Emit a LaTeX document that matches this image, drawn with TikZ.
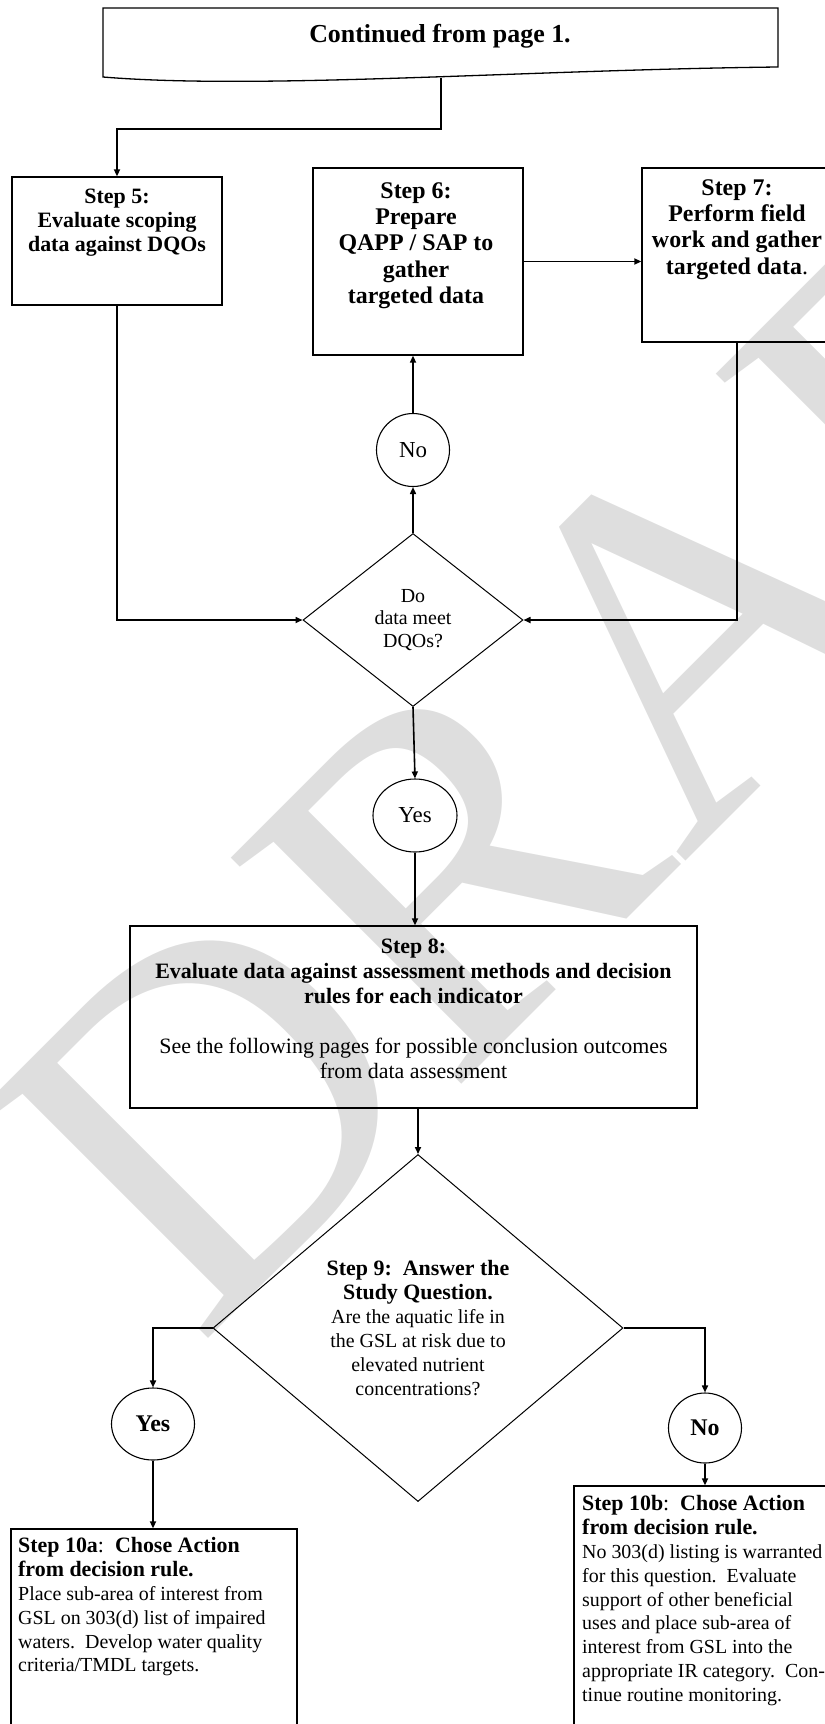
\documentclass[tikz,border=0pt]{standalone}
\usepackage{fontspec}
\setmainfont{Liberation Serif}
\usetikzlibrary{arrows.meta,shapes.geometric}
\definecolor{wm}{HTML}{DEDEDE}
\begin{document}
\begin{tikzpicture}[x=1bp,y=-1bp,
  stepbox/.style={draw,line width=1.3bp,inner sep=0pt},
  conn/.style={line width=1.6bp,-{Triangle[length=7bp,width=6bp]}},
  decision/.style={draw,diamond,line width=1bp,inner sep=0pt,align=center},
  oval/.style={draw,ellipse,line width=1.1bp,inner sep=0pt},
  lbl/.style={inner sep=0pt,align=center},
  fbig/.style={font=\fontsize{24}{26.5}\selectfont\bfseries},
  fmid/.style={font=\fontsize{22}{24}\selectfont\bfseries}
]
\useasboundingbox (0,0) rectangle (825,1724);
\clip (0,0) rectangle (825,1724);
% watermark
\node[rotate=45,text=wm,inner sep=0pt,font=\fontsize{495}{495}\selectfont] (wmark) at (655,662) {DRAFT};

% top document shape
\draw[line width=1.3bp] (103,8) -- (778,8) -- (778,67) .. controls (520,70) and (260,90) .. (103,77) -- cycle;
\node[inner sep=0pt,anchor=base,font=\fontsize{26}{28}\selectfont\bfseries] (title) at (440,42) {Continued from page 1.};
\coordinate (topout) at (441,78);
\coordinate (bend) at (441,129);

% step boxes
\node[stepbox,minimum width=210bp,minimum height=128bp] (s5) at (117,241) {};
\node[stepbox,minimum width=210bp,minimum height=187bp] (s6) at (418,261.5) {};
\node[stepbox,minimum width=190bp,minimum height=174bp] (s7) at (737,255) {};
\node[lbl,fmid,anchor=north] (t5) at (117,189) {Step 5:\\Evaluate scoping\\data against DQOs};
\node[lbl,fbig,anchor=north] (t6) at (416,182) {Step 6:\\Prepare\\QAPP / SAP to\\gather\\targeted data};
\node[lbl,fbig,anchor=north] (t7) at (737,179) {Step 7:\\Perform field\\work and gather\\targeted data\textmd{.}};

% decision 1
\node[decision,minimum width=220bp,minimum height=173bp,font=\fontsize{20}{23}\selectfont] (d1) at (413,620) {Do\\data meet\\DQOs?};
\node[oval,minimum width=73bp,minimum height=73bp,font=\fontsize{23}{25}\selectfont] (no1) at (413,450) {No};
\node[oval,minimum width=84bp,minimum height=73bp,font=\fontsize{23}{25}\selectfont] (yes1) at (415,815.5) {Yes};

% step 8
\node[stepbox,minimum width=567bp,minimum height=182bp] (s8) at (413.5,1017) {};
\node[lbl,font=\fontsize{22}{25}\selectfont\bfseries,anchor=north] (t8) at (413.5,939) {Step 8:\\Evaluate data against assessment methods and decision\\rules for each indicator\\[25bp]\textmd{See the following pages for possible conclusion outcomes}\\\textmd{from data assessment}};

% decision 2
\node[decision,minimum width=410bp,minimum height=347bp,font=\fontsize{20}{24}\selectfont] (d2) at (418,1328) {{\fontsize{22}{24}\selectfont\bfseries Step 9:\ \ Answer the}\\{\fontsize{22}{24}\selectfont\bfseries Study Question.}\\Are the aquatic life in\\the GSL at risk due to\\elevated nutrient\\concentrations?};
\node[oval,minimum width=83bp,minimum height=72bp,font=\fontsize{24}{26}\selectfont\bfseries] (yes2) at (153,1424) {Yes};
\node[oval,minimum width=73bp,minimum height=70bp,font=\fontsize{24}{26}\selectfont\bfseries] (no2) at (705,1428) {No};

% step 10 boxes
\node[stepbox,minimum width=286bp,minimum height=231bp] (s10a) at (154,1644.5) {};
\node[stepbox,minimum width=262bp,minimum height=274bp] (s10b) at (705,1623) {};
\node[inner sep=0pt,align=left,anchor=north west,font=\fontsize{20}{24}\selectfont] (t10a) at (18,1537) {{\fontsize{22}{24}\selectfont\textbf{Step 10a}:\ \ \textbf{Chose Action}}\\{\fontsize{22}{24}\selectfont\bfseries from decision rule.}\\Place sub-area of interest from\\GSL on 303(d) list of impaired\\waters.\ \ Develop water quality\\criteria/TMDL targets.};
\node[inner sep=0pt,align=left,anchor=north west,font=\fontsize{20}{24}\selectfont] (t10b) at (582,1495) {{\fontsize{22}{24}\selectfont\textbf{Step 10b}:\ \ \textbf{Chose Action}}\\{\fontsize{22}{24}\selectfont\bfseries from decision rule.}\\No 303(d) listing is warranted\\for this question.\ \ Evaluate\\support of other beneficial\\uses and place sub-area of\\interest from GSL into the\\appropriate IR category.\ \ Con-\\tinue routine monitoring.};

% connectors
\draw[conn] (topout) -- (bend) -| (s5.north);
\draw[conn] (s6.east) -- (s6.east -| s7.west);
\draw[conn] (s5.south) |- (d1.west);
\draw[conn] (s7.south) |- (d1.east);
\draw[conn] (d1.north) -- (no1.south);
\draw[conn] (no1.north) -- (no1.north |- s6.south);
\draw[conn] (d1.south) -- (yes1.north);
\draw[conn] (yes1.south) -- (yes1.south |- s8.north);
\draw[conn] (s8.south -| d2.north) -- (d2.north);
\draw[conn] (d2.west) -| (yes2.north);
\draw[conn] (d2.east) -| (no2.north);
\draw[conn] (yes2.south) -- (yes2.south |- s10a.north);
\draw[conn] (no2.south) -- (no2.south |- s10b.north);
\end{tikzpicture}
\end{document}
